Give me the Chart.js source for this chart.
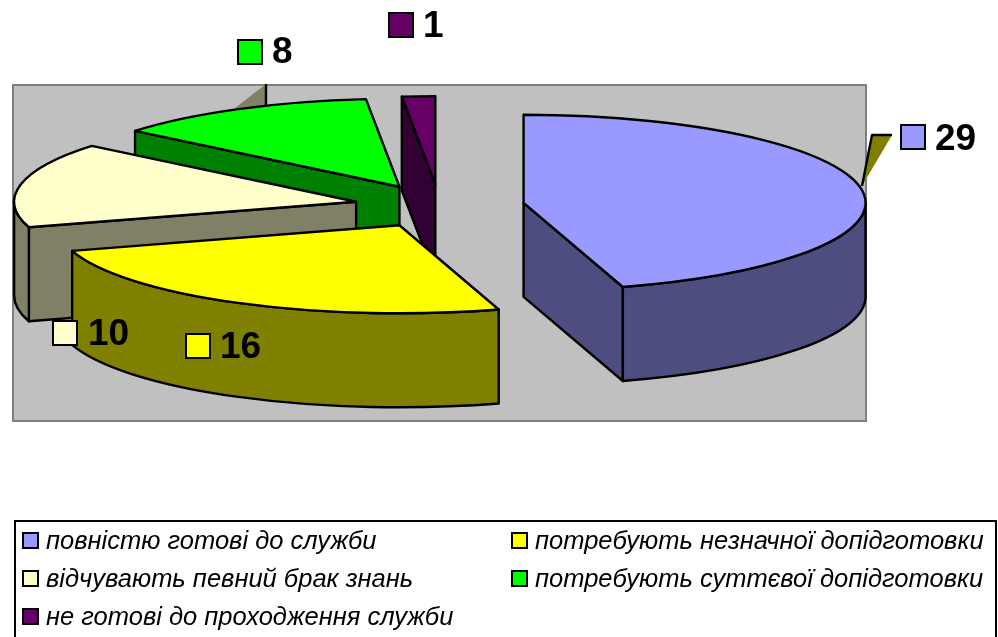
<!DOCTYPE html>
<html>
<head>
<meta charset="utf-8">
<style>
  html, body { margin: 0; padding: 0; background: #fff; }
  canvas { display: block; }
</style>
</head>
<body>
<canvas id="chart" width="998" height="637"></canvas>
<script src="https://cdn.jsdelivr.net/npm/chart.js@4/dist/chart.umd.js"></script>
<script>
var categories = [
  "повністю готові до служби",
  "потребують незначної допідготовки",
  "відчувають певний брак знань",
  "потребують суттєвої допідготовки",
  "не готові до проходження служби"
];
var values = [29, 16, 10, 8, 1];

var topColors = ["#9999ff", "#ffff00", "#ffffcc", "#00ff00", "#660066"];
var sideColors = ["#4d4d80", "#808000", "#808066", "#008000", "#330033"];

// value labels: key square x,y then text x,y (baseline)
var labelBoxes = [
  [900, 124, 935, 150],
  [185, 333, 220, 358],
  [52, 320, 88, 345],
  [237, 39, 272, 63],
  [388, 12, 423, 37]
];
// legend rows, same order as categories
var legendSpots = [
  [22, 541], [511, 541], [22, 579], [511, 579], [22, 617]
];

var font = '"Liberation Sans", Arial, sans-serif';
var tilt = 0.2573;   // y squash of the pie
var depth = 94;      // wall height in px
var radius = 342;
var explode = 85;    // how far each slice leaves the centre
var edge = 2.4;

function sliceOrigin(chart, arc) {
  var cy = (chart.chartArea.top + chart.chartArea.bottom) / 2;
  return { x: arc.x, y: cy + (arc.y - cy) * tilt };
}

function rimPoint(arc, o, a) {
  return {
    x: o.x + Math.cos(a) * arc.outerRadius,
    y: o.y + Math.sin(a) * arc.outerRadius * tilt
  };
}

function radialFace(ctx, o, p) {
  ctx.beginPath();
  ctx.moveTo(o.x, o.y);
  ctx.lineTo(p.x, p.y);
  ctx.lineTo(p.x, p.y + depth);
  ctx.lineTo(o.x, o.y + depth);
  ctx.closePath();
  ctx.fill();
  ctx.stroke();
}

// only the faces turned to the viewer are needed, every slice is convex
function drawWalls(chart, arc, color) {
  var ctx = chart.ctx;
  var o = sliceOrigin(chart, arc);
  var r = arc.outerRadius;
  ctx.fillStyle = color;
  if (Math.cos(arc.startAngle) < -1e-6) {
    radialFace(ctx, o, rimPoint(arc, o, arc.startAngle));
  }
  if (Math.cos(arc.endAngle) > 1e-6) {
    radialFace(ctx, o, rimPoint(arc, o, arc.endAngle));
  }
  var a0 = Math.max(arc.startAngle, 0);
  var a1 = Math.min(arc.endAngle, Math.PI);
  if (a1 > a0) {
    ctx.beginPath();
    ctx.ellipse(o.x, o.y, r, r * tilt, 0, a0, a1);
    ctx.ellipse(o.x, o.y + depth, r, r * tilt, 0, a1, a0, true);
    ctx.closePath();
    ctx.fill();
    ctx.stroke();
  }
}

function outlineTop(chart, arc) {
  var ctx = chart.ctx;
  var o = sliceOrigin(chart, arc);
  var r = arc.outerRadius;
  ctx.beginPath();
  ctx.moveTo(o.x, o.y);
  ctx.ellipse(o.x, o.y, r, r * tilt, 0, arc.startAngle, arc.endAngle);
  ctx.closePath();
  ctx.stroke();
}

function leader(ctx, fill, points, linePoints) {
  ctx.fillStyle = fill;
  ctx.beginPath();
  points.forEach(function (p, i) {
    if (i == 0) ctx.moveTo(p[0], p[1]); else ctx.lineTo(p[0], p[1]);
  });
  ctx.closePath();
  ctx.fill();
  ctx.beginPath();
  linePoints.forEach(function (p, i) {
    if (i == 0) ctx.moveTo(p[0], p[1]); else ctx.lineTo(p[0], p[1]);
  });
  ctx.stroke();
}

var pie3d = {
  id: "pie3d",
  // the built in arc offset also changes radius and angles, so move the arcs here
  afterDatasetUpdate: function (chart) {
    chart.getDatasetMeta(0).data.forEach(function (arc) {
      var mid = (arc.startAngle + arc.endAngle) / 2;
      arc.x += Math.cos(mid) * explode;
      arc.y += Math.sin(mid) * explode;
    });
  },
  beforeDraw: function (chart) {
    var ctx = chart.ctx;
    ctx.save();
    ctx.fillStyle = "#ffffff";
    ctx.fillRect(0, 0, 998, 637);
    // plot wall
    ctx.fillStyle = "#c0c0c0";
    ctx.strokeStyle = "#808080";
    ctx.lineWidth = 2;
    ctx.fillRect(13, 85, 853, 336);
    ctx.strokeRect(13, 85, 853, 336);
    ctx.restore();
  },
  beforeDatasetDraw: function (chart) {
    var ctx = chart.ctx;
    var arcs = chart.getDatasetMeta(0).data;
    ctx.save();
    ctx.strokeStyle = "#000000";
    ctx.lineWidth = edge;
    ctx.lineJoin = "round";
    leader(ctx, sideColors[2], [[235, 108], [266, 84], [266, 107]], [[266, 84], [266, 106]]);
    leader(ctx, sideColors[1], [[862, 186], [872, 135], [892, 135]], [[862, 186], [872, 135], [892, 135]]);
    // back to front
    for (var i = arcs.length - 1; i >= 1; i--) {
      drawWalls(chart, arcs[i], sideColors[i]);
    }
    drawWalls(chart, arcs[0], sideColors[0]);
    ctx.restore();

    // the arcs themselves are drawn by chart.js, only squashed
    var cy = (chart.chartArea.top + chart.chartArea.bottom) / 2;
    ctx.save();
    ctx.translate(0, cy);
    ctx.scale(1, tilt);
    ctx.translate(0, -cy);
  },
  afterDatasetDraw: function (chart) {
    var ctx = chart.ctx;
    ctx.restore();
    ctx.save();
    ctx.strokeStyle = "#000000";
    ctx.lineWidth = edge;
    ctx.lineJoin = "round";
    chart.getDatasetMeta(0).data.forEach(function (arc) {
      outlineTop(chart, arc);
    });
    ctx.restore();
  },
  afterDraw: function (chart) {
    var ctx = chart.ctx;
    ctx.save();
    ctx.textBaseline = "alphabetic";
    ctx.textAlign = "left";

    // value labels with their keys
    ctx.font = "bold 37px " + font;
    values.forEach(function (v, i) {
      var b = labelBoxes[i];
      ctx.fillStyle = topColors[i];
      ctx.strokeStyle = "#000000";
      ctx.lineWidth = 2;
      ctx.fillRect(b[0] + 1, b[1] + 1, 24, 24);
      ctx.strokeRect(b[0] + 1, b[1] + 1, 24, 24);
      ctx.fillStyle = "#000000";
      ctx.fillText(String(v), b[2], b[3]);
    });

    // legend box runs off the bottom of the page
    ctx.strokeStyle = "#000000";
    ctx.lineWidth = 2;
    ctx.strokeRect(15, 521, 981, 140);
    ctx.font = "italic 25.5px " + font;
    categories.forEach(function (name, i) {
      var s = legendSpots[i];
      ctx.fillStyle = topColors[i];
      ctx.fillRect(s[0] + 1, s[1] - 8, 15, 15);
      ctx.strokeRect(s[0] + 1, s[1] - 8, 15, 15);
      ctx.fillStyle = "#000000";
      ctx.fillText(name, s[0] + 24, s[1] + 8);
    });
    ctx.restore();
  }
};

var chart = new Chart("chart", {
  type: "pie",
  data: {
    labels: categories,
    datasets: [
      {
        data: values,
        backgroundColor: topColors,
        borderWidth: 0,
        offset: 0,
        hoverOffset: 0
      }
    ]
  },
  options: {
    responsive: false,
    animation: false,
    events: [],
    radius: radius,
    layout: { padding: { left: 0, right: 119, top: 0, bottom: 225 } },
    plugins: {
      legend: { display: false },
      tooltip: { enabled: false }
    }
  },
  plugins: [pie3d]
});
</script>
</body>
</html>
